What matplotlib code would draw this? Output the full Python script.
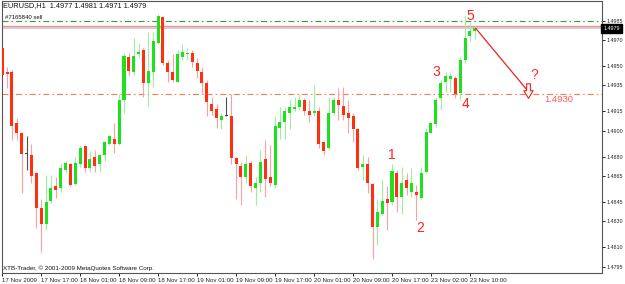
import numpy as np
import matplotlib
matplotlib.use('Agg')
import matplotlib.pyplot as plt
import matplotlib.transforms as mtransforms
from matplotlib.path import Path

# EURUSD H1 candles, 17 Nov 2009 09:00 .. 23 Nov 2009 11:00
opens = [1.4964, 1.4945, 1.4945, 1.4906, 1.4898, 1.4882, 1.4881, 1.4867, 1.4840, 1.4828,
         1.4846, 1.4857, 1.4856, 1.4870, 1.4874, 1.4859, 1.4874, 1.4888, 1.4871, 1.4880,
         1.4874, 1.4881, 1.4890, 1.4894, 1.4890, 1.4924, 1.4957, 1.4945, 1.4959, 1.4962,
         1.4937, 1.4945, 1.4968, 1.4988, 1.4952, 1.4945, 1.4938, 1.4957, 1.4959, 1.4960,
         1.4952, 1.4945, 1.4937, 1.4921, 1.4917, 1.4908, 1.4911, 1.4911, 1.4879, 1.4873,
         1.4864, 1.4875, 1.4856, 1.4860, 1.4878, 1.4864, 1.4858, 1.4902, 1.4907, 1.4914,
         1.4917, 1.4918, 1.4924, 1.4915, 1.4914, 1.4915, 1.4891, 1.4887, 1.4914, 1.4924,
         1.4919, 1.4914, 1.4911, 1.4901, 1.4872, 1.4874, 1.4859, 1.4826, 1.4836, 1.4847,
         1.4845, 1.4867, 1.4849, 1.4862, 1.4853, 1.4853, 1.4848, 1.4868, 1.4898, 1.4905,
         1.4925, 1.4938, 1.4940, 1.4941, 1.4929, 1.4955, 1.4973, 1.4977]
highs = [1.4965, 1.4949, 1.4947, 1.4910, 1.4899, 1.4896, 1.4890, 1.4868, 1.4847, 1.4866,
         1.4866, 1.4864, 1.4875, 1.4877, 1.4875, 1.4880, 1.4889, 1.4889, 1.4884, 1.4885,
         1.4882, 1.4892, 1.4897, 1.4906, 1.4928, 1.4960, 1.4960, 1.4972, 1.4968, 1.4964,
         1.4976, 1.4976, 1.4990, 1.4989, 1.4955, 1.4959, 1.4962, 1.4967, 1.4964, 1.4962,
         1.4956, 1.4949, 1.4939, 1.4926, 1.4921, 1.4914, 1.4926, 1.4928, 1.4880, 1.4876,
         1.4881, 1.4877, 1.4864, 1.4885, 1.4893, 1.4889, 1.4911, 1.4918, 1.4918, 1.4924,
         1.4926, 1.4928, 1.4925, 1.4924, 1.4935, 1.4918, 1.4892, 1.4926, 1.4926, 1.4933,
         1.4934, 1.4924, 1.4914, 1.4902, 1.4881, 1.4880, 1.4860, 1.4847, 1.4862, 1.4857,
         1.4874, 1.4870, 1.4872, 1.4867, 1.4871, 1.4858, 1.4872, 1.4902, 1.4907, 1.4926,
         1.4939, 1.4945, 1.4945, 1.4942, 1.4957, 1.4989, 1.4984, 1.4981]
lows = [1.4933, 1.4933, 1.4893, 1.4893, 1.4852, 1.4870, 1.4860, 1.4825, 1.4806, 1.4823,
        1.4844, 1.4848, 1.4853, 1.4867, 1.4857, 1.4858, 1.4872, 1.4868, 1.4868, 1.4868,
        1.4868, 1.4877, 1.4889, 1.4883, 1.4889, 1.4914, 1.4942, 1.4943, 1.4957, 1.4926,
        1.4918, 1.4934, 1.4967, 1.4951, 1.4938, 1.4938, 1.4938, 1.4955, 1.4955, 1.4949,
        1.4941, 1.4929, 1.4911, 1.4912, 1.4902, 1.4901, 1.4911, 1.4874, 1.4847, 1.4843,
        1.4860, 1.4853, 1.4843, 1.4853, 1.4849, 1.4857, 1.4856, 1.4894, 1.4894, 1.4901,
        1.4915, 1.4916, 1.4912, 1.4907, 1.4911, 1.4887, 1.4881, 1.4885, 1.4912, 1.4908,
        1.4908, 1.4898, 1.4891, 1.4870, 1.4862, 1.4852, 1.4801, 1.4812, 1.4835, 1.4823,
        1.4843, 1.4837, 1.4836, 1.4850, 1.4849, 1.4831, 1.4847, 1.4867, 1.4898, 1.4903,
        1.4916, 1.4930, 1.4930, 1.4925, 1.4924, 1.4952, 1.4969, 1.4971]
closes = [1.4943, 1.4944, 1.4904, 1.4898, 1.4882, 1.4882, 1.4865, 1.4840, 1.4828, 1.4845,
          1.4856, 1.4854, 1.4871, 1.4875, 1.4858, 1.4875, 1.4887, 1.4871, 1.4878, 1.4873,
          1.4881, 1.4891, 1.4896, 1.4890, 1.4924, 1.4958, 1.4946, 1.4958, 1.4961, 1.4937,
          1.4946, 1.4969, 1.4989, 1.4952, 1.4945, 1.4939, 1.4959, 1.4961, 1.4960, 1.4953,
          1.4946, 1.4937, 1.4922, 1.4915, 1.4910, 1.4911, 1.4911, 1.4879, 1.4874, 1.4864,
          1.4874, 1.4857, 1.4860, 1.4876, 1.4863, 1.4860, 1.4904, 1.4907, 1.4915, 1.4918,
          1.4918, 1.4924, 1.4915, 1.4912, 1.4915, 1.4890, 1.4884, 1.4914, 1.4924, 1.4920,
          1.4912, 1.4910, 1.4901, 1.4871, 1.4874, 1.4860, 1.4826, 1.4837, 1.4846, 1.4844,
          1.4869, 1.4849, 1.4860, 1.4856, 1.4860, 1.4850, 1.4867, 1.4899, 1.4906, 1.4924,
          1.4937, 1.4942, 1.4942, 1.4928, 1.4955, 1.4972, 1.4977, 1.4979]

time_labels = ['17 Nov 2009', '17 Nov 17:00', '18 Nov 01:00', '18 Nov 09:00', '18 Nov 17:00',
               '19 Nov 01:00', '19 Nov 09:00', '19 Nov 17:00', '20 Nov 01:00', '20 Nov 09:00',
               '20 Nov 17:00', '23 Nov 02:00', '23 Nov 10:00']
time_label_bars = [0, 8, 16, 24, 32, 40, 48, 56, 64, 72, 80, 88, 96]
price_ticks = [1.4985, 1.4970, 1.4950, 1.4935, 1.4915, 1.4900, 1.4880, 1.4865,
               1.4845, 1.4830, 1.4810, 1.4795]

order_price = 1.49845   # #7165840 sell
ask_price = 1.4981
bid_price = 1.4979
target_line = 1.4928

# wave labels: (text, bar, price)
wave_labels = [('1', 80, 1.4881), ('2', 85.7, 1.4825), ('3', 89, 1.4945),
               ('4', 95, 1.4921), ('5', 96, 1.4989)]

opens = np.array(opens); closes = np.array(closes)
highs = np.array(highs); lows = np.array(lows)
x = np.arange(len(opens))

GREEN = '#1ee01e'
RED = '#ff3010'
SANS = ['Liberation Sans', 'DejaVu Sans']
plt.rcParams['lines.scale_dashes'] = False

W, H = 625, 284
fig = plt.figure(figsize=(W / 100, H / 100), dpi=100, facecolor='white')
ax = fig.add_axes([1.7 / W, (H - 273.3) / H, (602 - 1.7) / W, (273.3 - 1) / H])
ax.set_facecolor('white')

# horizontal lines
dashdot = (0, (4.3, 2.2, 1.1, 2.2))
ax.axhline(target_line, color='#ff7a55', lw=0.8, linestyle=dashdot, zorder=1)
ax.axhline(order_price, color='#3a9a3a', lw=0.8, linestyle=dashdot, zorder=1)
ax.axhline(ask_price, color='#ff8a8a', lw=1.0, zorder=1)
ax.axhline(bid_price, color='#c8c8c8', lw=1.2, zorder=1)

# candles
up = closes > opens
down = closes < opens
wick_colors = np.where(up, '#9cf09c', np.where(down, '#ffa0a0', '#505050'))
ax.vlines(x, lows, highs, colors=wick_colors, lw=0.8, zorder=2)
body_h = np.maximum(np.abs(closes - opens), 0.00008)
body_bottom = np.minimum(opens, closes)
body_colors = np.where(up, GREEN, np.where(down, RED, '#404040'))
ax.bar(x, body_h, bottom=body_bottom, width=0.62, color=body_colors, linewidth=0, zorder=3)

# projection line and hollow down arrow
ax.plot([x[-1] + 0.2, 107.6], [closes[-1], 1.4932], color='#f02020', lw=0.9, zorder=4)
arrow_path = Path([(-0.25, 1.0), (0.25, 1.0), (0.25, 0.1), (0.6, 0.1), (0.0, -0.9),
                   (-0.6, 0.1), (-0.25, 0.1), (-0.25, 1.0)], closed=True)
ax.plot([107.9], [1.4931], marker=arrow_path, ms=11, mfc='white', mec='#f02020',
        mew=0.8, linestyle='none', zorder=5)
ax.text(109.2, 1.4943, '?', color='#ff3030', fontsize=10, ha='center', va='center', family=SANS)
ax.text(111.3, 1.4924, '1.4930', color='#ff5a5a', fontsize=6.8, ha='left', va='center', family=SANS)

for txt, bx, py in wave_labels:
    ax.text(bx, py, txt, color='#ff2020', fontsize=10, ha='center', va='center', family=SANS)

ax.set_xlim(-0.1, 123.1)
ax.set_ylim(1.47899, 1.50002)

ax.set_xticks(time_label_bars)
ax.set_xticklabels(time_labels, ha='left', fontsize=4.4, family=SANS)
ax.tick_params(axis='x', direction='out', length=2.5, width=0.7, pad=1, colors='#222222')
ax.yaxis.tick_right()
ax.set_yticks(price_ticks)
ax.set_yticklabels([f'{p:.4f}' for p in price_ticks], fontsize=3.9, family=SANS)
ax.tick_params(axis='y', direction='out', length=2, width=0.7, pad=1.5, colors='#222222')
for s in ax.spines.values():
    s.set_color('#555555')
    s.set_linewidth(0.8)

# current bid box on price scale
trans = mtransforms.blended_transform_factory(ax.transAxes, ax.transData)
ax.text(1.002, bid_price, '1.4979', transform=trans, ha='left', va='center', fontsize=3.9,
        family=SANS, color='white', clip_on=False,
        bbox=dict(boxstyle='square,pad=0.35', facecolor='black', edgecolor='black'))

fig.text(3 / W, 1 - 6 / H, 'EURUSD,H1  1.4977 1.4981 1.4971 1.4979', fontsize=5.3,
         family=SANS, ha='left', va='center', color='#111111')
fig.text(5 / W, 1 - 17.5 / H, '#7165840 sell', fontsize=4.3, family=SANS,
         ha='left', va='center', color='#111111')
fig.text(3 / W, 1 - 268.5 / H, 'XTB-Trader, \u00a9 2001-2009 MetaQuotes Software Corp.',
         fontsize=4.5, family=SANS, ha='left', va='center', color='#111111')

fig.savefig('out.png', dpi=100, facecolor='white')
